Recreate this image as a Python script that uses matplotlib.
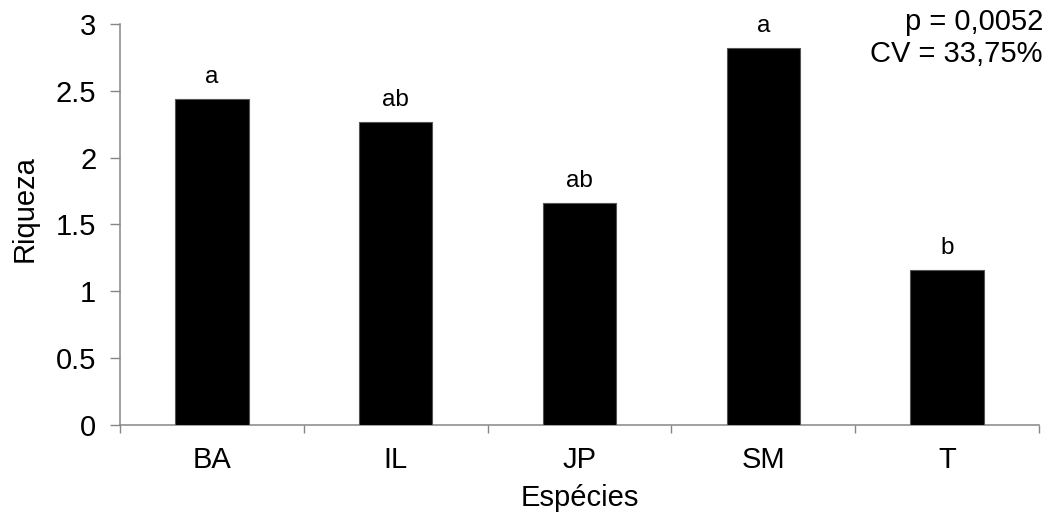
import matplotlib
matplotlib.use("Agg")
import matplotlib.pyplot as plt
from matplotlib.ticker import FixedLocator

plt.rcParams['font.family'] = ['Liberation Sans', 'DejaVu Sans']

categories = ["BA", "IL", "JP", "SM", "T"]
riqueza = [2.44, 2.27, 1.66, 2.82, 1.16]
letters = ["a", "ab", "ab", "a", "b"]
yticks = [0, 0.5, 1, 1.5, 2, 2.5, 3]
ytick_labels = ["0", "0.5", "1", "1.5", "2", "2.5", "3"]
stats_text = "p = 0,0052\nCV = 33,75%"

gray = "#868686"

fig = plt.figure(figsize=(10.52, 5.14), dpi=100)
ax = fig.add_axes([0.114, 0.1737, 0.8737, 0.7796])

x = list(range(len(categories)))
ax.bar(x, riqueza, width=0.4, color="black", edgecolor="#555555", linewidth=0.8, zorder=3)

for xi, v, lab in zip(x, riqueza, letters):
    ax.annotate(lab, (xi, v), xytext=(0, 11.5), textcoords="offset points",
                ha="center", va="baseline", fontsize=17.5, color="black")

ax.set_xlim(-0.5, len(categories) - 0.5)
ax.set_ylim(0, 3)
ax.set_xticks(x)
ax.set_xticklabels(categories, fontsize=21)
ax.xaxis.set_minor_locator(FixedLocator([i - 0.5 for i in range(len(categories) + 1)]))
ax.tick_params(axis="x", which="major", length=0, pad=15)
ax.tick_params(axis="x", which="minor", length=6, width=1, color=gray, direction="out")
ax.set_yticks(yticks)
ax.set_yticklabels(ytick_labels, fontsize=21)
ax.tick_params(axis="y", which="major", length=7, width=1, color=gray, direction="out", pad=10)

for s in ["top", "right"]:
    ax.spines[s].set_visible(False)
for s in ["left", "bottom"]:
    ax.spines[s].set_color(gray)
    ax.spines[s].set_linewidth(1.1)

ax.set_ylabel("Riqueza", fontsize=21)
ax.yaxis.set_label_coords(-0.088, 0.54)
ax.set_xlabel("Espécies", fontsize=21)
ax.xaxis.set_label_coords(0.5, -0.148)

fig.text(1043 / 1052, 1 - 8 / 514, stats_text, ha="right", va="top", fontsize=21,
         linespacing=1.18)

fig.savefig("out.png", dpi=100)
